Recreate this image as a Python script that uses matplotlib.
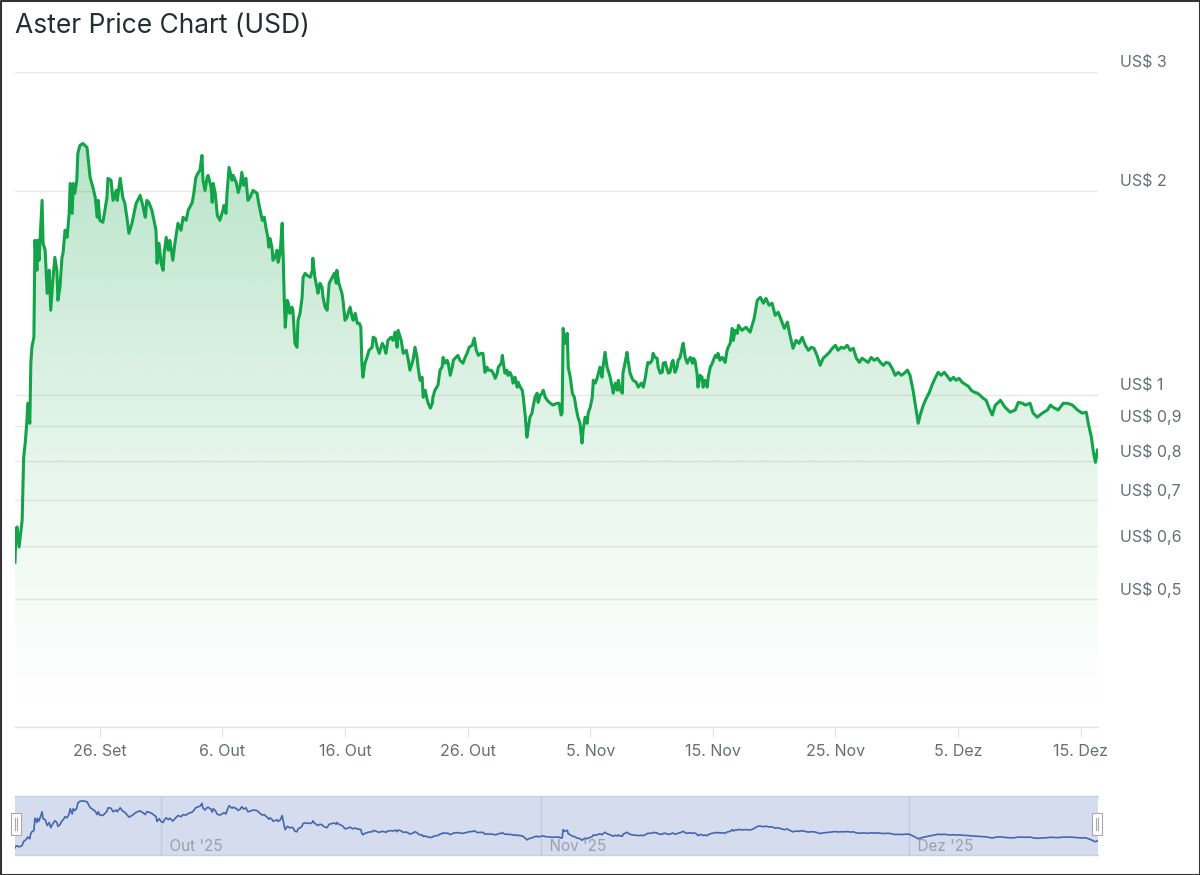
import numpy as np
import pandas as pd
import matplotlib
matplotlib.use('Agg')
import matplotlib.pyplot as plt
import matplotlib.dates as mdates
from matplotlib.patches import Rectangle
from matplotlib.lines import Line2D
from matplotlib.transforms import blended_transform_factory, offset_copy

plt.rcParams['font.family'] = ['Inter', 'DejaVu Sans']

# ASTER price readings: hours after the first sample, price in USD
start = pd.Timestamp('2025-09-19 02:00')
hours = [
    0, 2, 4, 8, 14, 15, 16, 17, 20, 23, 25, 29, 31, 33, 37, 39, 43, 44, 47, 53,
    55, 59, 63, 67, 70, 74, 78, 82, 84, 88, 92, 94, 98, 102, 106, 108, 112, 114, 117, 121,
    123, 127, 133, 141, 143, 147, 153, 157, 161, 163, 166, 172, 176, 180, 182, 188, 192, 198, 200, 206,
    211, 215, 219, 223, 229, 233, 237, 245, 251, 255, 258, 262, 268, 272, 276, 278, 282, 286, 290, 292,
    296, 300, 303, 309, 313, 319, 325, 329, 335, 339, 347, 350, 354, 358,
    362, 366, 368, 372, 376, 378, 384, 386, 388, 392, 396, 401, 407, 409, 413, 415, 419, 425, 427, 433,
    437, 441, 444, 448, 452, 456, 460, 466, 474, 476, 480, 484, 488, 491, 495, 497, 499, 503, 505, 509,
    513, 515, 519, 523, 525, 527, 529, 533, 535, 538, 542, 544, 548, 552, 554, 558, 562, 564, 568, 572,
    578, 582, 583, 587, 591, 593, 597, 601, 603, 607, 611, 615, 621, 625, 629, 630, 634, 640, 642, 646,
    650, 652, 656, 660, 662, 666, 670, 674, 677, 679, 681, 685, 689, 693, 699, 701, 705, 709,
    713, 719, 723, 726, 730, 736, 740, 744, 748, 750, 756, 760, 766, 770, 773, 779, 783, 787, 789, 793,
    797, 799, 803, 807, 809, 813, 817, 818, 822, 828, 832, 836, 838, 842, 846, 848, 852, 856, 858, 863,
    867, 871, 877, 881, 885, 889, 895, 899, 903, 907, 912, 916, 920, 924, 926, 932, 936, 940, 944, 946,
    952, 954, 956, 959, 963, 965, 969, 973, 975, 979, 983, 985, 989, 993, 995, 999, 1002, 1004, 1008, 1012,
    1014, 1018, 1022, 1024, 1028, 1032, 1034, 1038, 1042, 1048,
    1053, 1061, 1065, 1069, 1071, 1073, 1075, 1077, 1081, 1083, 1087, 1091, 1095, 1098, 1102, 1106, 1110, 1112, 1116, 1120,
    1122, 1126, 1130, 1132, 1136, 1140, 1142, 1145, 1149, 1151, 1155, 1159, 1161, 1165, 1169, 1171, 1175, 1179, 1181, 1185,
    1189, 1190, 1194, 1198, 1200, 1204, 1208, 1210, 1216, 1220, 1226, 1230, 1234, 1237, 1239, 1243, 1247, 1249, 1253, 1257,
    1259, 1263, 1267, 1269, 1273, 1277, 1279, 1282, 1286, 1288, 1292, 1296, 1298, 1302, 1306, 1308, 1312, 1316, 1318, 1322,
    1326, 1328, 1331, 1335, 1337, 1341, 1345, 1347, 1351, 1355, 1357, 1361, 1365, 1367, 1371, 1375, 1376, 1380, 1384, 1386,
    1390, 1394, 1396, 1400, 1404, 1406, 1410, 1414, 1416,
    1423, 1431, 1439, 1447, 1453, 1459, 1465, 1470, 1476, 1482, 1488, 1494, 1500, 1506, 1512, 1517, 1523, 1529, 1535, 1541,
    1547, 1553, 1559, 1564, 1570, 1576, 1582, 1588, 1594, 1600, 1606, 1611, 1617, 1623, 1629, 1635, 1641, 1647, 1653, 1658,
    1664, 1670, 1676, 1682, 1688, 1694, 1700, 1705, 1711, 1717, 1723, 1729, 1735, 1741, 1747, 1752, 1758, 1764, 1768, 1772,
    1778, 1784, 1790, 1795, 1801, 1807, 1813, 1819, 1825, 1831, 1837, 1842, 1848, 1854, 1860, 1866, 1872, 1878, 1884, 1889,
    1895, 1901, 1907, 1913, 1919, 1925,
    1929, 1938, 1948, 1958, 1964, 1972, 1978, 1987, 1993, 2001, 2011, 2021, 2027, 2032, 2042, 2052, 2060, 2070, 2080, 2089,
    2097, 2101, 2107, 2111, 2115, 2119,
]
price = [
    0.567, 0.632, 0.639, 0.597, 0.654, 0.707, 0.757, 0.810, 0.850, 0.909, 0.973, 0.909, 1.115, 1.177, 1.218, 1.693, 1.529, 1.693, 1.582, 1.939,
    1.676, 1.637, 1.414, 1.529, 1.335, 1.478, 1.598, 1.529, 1.381, 1.443, 1.598, 1.620, 1.752, 1.710, 1.855, 2.054, 1.855, 2.054, 1.986, 2.076,
    2.275, 2.337, 2.353, 2.321, 2.244, 2.097, 2.020, 1.959, 1.831, 1.939, 1.812, 1.800, 1.875, 1.959, 2.090, 2.076, 1.939, 2.006, 1.939, 2.090,
    1.959, 1.919, 1.831, 1.734, 1.794, 1.855, 1.919, 1.972, 1.894, 1.831, 1.939, 1.926, 1.875, 1.812, 1.752, 1.566, 1.676, 1.566, 1.529, 1.620,
    1.710, 1.637, 1.693, 1.582, 1.676, 1.794, 1.752, 1.831, 1.812, 1.875, 1.926, 1.986, 2.097, 2.126,
    2.147, 2.259, 2.076, 2.006, 2.097, 2.111, 2.027, 1.926, 2.054, 1.986, 1.843, 1.812, 1.875, 1.906, 1.855, 1.986, 2.169, 2.076, 2.111, 2.062,
    1.992, 2.041, 2.133, 2.041, 2.090, 1.939, 1.959, 2.006, 1.986, 1.939, 1.875, 1.812, 1.831, 1.770, 1.710, 1.654, 1.704, 1.654, 1.582, 1.598,
    1.637, 1.571, 1.620, 1.794, 1.598, 1.395, 1.260, 1.381, 1.367, 1.321, 1.349, 1.335, 1.193, 1.177, 1.290, 1.321, 1.395, 1.493, 1.513, 1.503,
    1.493, 1.529, 1.593, 1.493, 1.443, 1.414, 1.463, 1.443, 1.395, 1.349, 1.335, 1.463, 1.493, 1.513, 1.463, 1.529, 1.463, 1.414, 1.381, 1.290,
    1.303, 1.321, 1.349, 1.303, 1.290, 1.321, 1.277, 1.277, 1.260, 1.115, 1.063, 1.115, 1.137, 1.165, 1.177, 1.218, 1.214, 1.177,
    1.153, 1.193, 1.177, 1.153, 1.205, 1.218, 1.205, 1.239, 1.177, 1.247, 1.205, 1.153, 1.165, 1.126, 1.089, 1.126, 1.177, 1.137, 1.100, 1.052,
    1.063, 0.993, 1.017, 0.983, 0.973, 0.957, 0.973, 0.993, 1.017, 1.035, 1.089, 1.100, 1.137, 1.115, 1.126, 1.115, 1.070, 1.100, 1.126, 1.137,
    1.145, 1.126, 1.115, 1.137, 1.153, 1.177, 1.185, 1.214, 1.165, 1.145, 1.153, 1.153, 1.081, 1.100, 1.089, 1.089, 1.078, 1.059, 1.078, 1.100,
    1.115, 1.145, 1.115, 1.078, 1.089, 1.070, 1.081, 1.063, 1.042, 1.063, 1.028, 1.045, 1.028, 1.017, 0.993, 0.928, 0.867, 0.888, 0.928, 0.941,
    0.960, 0.993, 1.007, 0.976, 1.000, 1.007, 1.017, 0.993, 0.983, 0.973,
    0.967, 0.973, 0.973, 0.935, 0.941, 1.255, 1.218, 1.193, 1.234, 1.100, 1.063, 1.007, 0.993, 0.960, 0.928, 0.909, 0.850, 0.888, 0.928, 0.909,
    0.941, 0.960, 0.993, 1.052, 1.042, 1.063, 1.078, 1.100, 1.063, 1.100, 1.157, 1.100, 1.089, 1.063, 1.028, 1.007, 1.042, 1.017, 1.052, 1.017,
    1.007, 1.078, 1.115, 1.157, 1.126, 1.078, 1.059, 1.052, 1.045, 1.028, 1.042, 1.028, 1.063, 1.100, 1.118, 1.115, 1.126, 1.153, 1.137, 1.134,
    1.100, 1.078, 1.081, 1.115, 1.118, 1.089, 1.078, 1.081, 1.118, 1.126, 1.081, 1.100, 1.126, 1.137, 1.177, 1.193, 1.137, 1.115, 1.126, 1.137,
    1.115, 1.134, 1.126, 1.078, 1.028, 1.070, 1.063, 1.028, 1.052, 1.028, 1.063, 1.100, 1.115, 1.126, 1.145, 1.137, 1.153, 1.126, 1.137, 1.134,
    1.118, 1.165, 1.177, 1.193, 1.255, 1.205, 1.247, 1.234, 1.268,
    1.247, 1.260, 1.239, 1.299, 1.381, 1.395, 1.367, 1.390, 1.358, 1.367, 1.312, 1.326, 1.290, 1.255, 1.282, 1.226, 1.173, 1.205, 1.193, 1.218,
    1.185, 1.165, 1.177, 1.173, 1.145, 1.107, 1.134, 1.145, 1.157, 1.173, 1.185, 1.165, 1.177, 1.173, 1.185, 1.165, 1.173, 1.134, 1.118, 1.134,
    1.126, 1.118, 1.137, 1.126, 1.134, 1.118, 1.107, 1.118, 1.115, 1.096, 1.070, 1.081, 1.070, 1.078, 1.089, 1.070, 1.017, 0.951, 0.909, 0.935,
    0.967, 0.990, 1.010, 1.035, 1.059, 1.081, 1.070, 1.081, 1.067, 1.052, 1.063, 1.052, 1.059, 1.045, 1.038, 1.031, 1.017, 1.010, 1.007, 1.000,
    0.990, 0.983, 0.957, 0.935, 0.967, 0.976,
    0.983, 0.960, 0.944, 0.951, 0.976, 0.973, 0.967, 0.973, 0.941, 0.928, 0.941, 0.951, 0.967, 0.960, 0.951, 0.973, 0.973, 0.967, 0.951, 0.941,
    0.944, 0.909, 0.867, 0.824, 0.796, 0.830,
]

y_ticks = [3, 2, 1, 0.9, 0.8, 0.7, 0.6, 0.5]
y_labels = ['US$ 3', 'US$ 2', 'US$ 1', 'US$ 0,9', 'US$ 0,8', 'US$ 0,7', 'US$ 0,6', 'US$ 0,5']
x_tick_dates = ['2025-09-26', '2025-10-06', '2025-10-16', '2025-10-26', '2025-11-05',
                '2025-11-15', '2025-11-25', '2025-12-05', '2025-12-15']
x_tick_labels = ['26. Set', '6. Out', '16. Out', '26. Out', '5. Nov',
                 '15. Nov', '25. Nov', '5. Dez', '15. Dez']
nav_months = ['2025-10-01', '2025-11-01', '2025-12-01']
nav_labels = ["Out '25", "Nov '25", "Dez '25"]

if len(hours) != len(price):
    raise ValueError(f'{len(hours)} hours vs {len(price)} prices')

times = start + pd.to_timedelta(hours, unit='h')
t = mdates.date2num(times.to_pydatetime())
p = np.array(price)

W, H = 1200, 875
fig = plt.figure(figsize=(12, 8.75), dpi=100)


def fig_box(x0, y0, x1, y1):
    return [x0 / W, 1 - y1 / H, (x1 - x0) / W, (y1 - y0) / H]


green = '#13a449'
grey_text = '#666c78'

ax = fig.add_axes(fig_box(15, 72, 1097.5, 727))
ax.set_yscale('log')
ybot, ytop = 0.3238, 3.0
ax.set_xlim(t[0], t[-1])
ax.set_ylim(ybot, ytop)

# gradient fill below the line
poly = ax.fill_between(t, p, ybot, color='none', lw=0)
grad = np.linspace(0, 1, 256)
rgba = np.zeros((256, 1, 4))
rgba[..., :3] = matplotlib.colors.to_rgb(green)
rgba[:, 0, 3] = 0.35 * grad ** 1.3
im = ax.imshow(rgba, extent=[0, 1, 0, 1], origin='lower', aspect='auto',
               transform=ax.transAxes, zorder=1, interpolation='bilinear')
im.set_clip_path(poly.get_paths()[0], transform=ax.transData)

ax.plot(t, p, color=green, lw=2.2, zorder=3, solid_joinstyle='round')
ax.set_xlim(t[0], t[-1])
ax.set_ylim(ybot, ytop)

for v in y_ticks:
    ax.axhline(v, color='#e8e8e8', lw=1, zorder=0.5)
ax.set_yticks([])
ax.yaxis.set_minor_locator(matplotlib.ticker.NullLocator())

trans = offset_copy(blended_transform_factory(ax.transAxes, ax.transData),
                    fig=fig, x=22, y=9, units='dots')
for v, lab in zip(y_ticks, y_labels):
    ax.text(1, v, lab, transform=trans, ha='left', va='center',
            fontsize=11.5, color=grey_text)

ax.set_xticks(mdates.date2num(pd.to_datetime(x_tick_dates).to_pydatetime()))
ax.set_xticklabels(x_tick_labels)
ax.tick_params(axis='x', length=7, width=0.8, color='#e3e3e3', pad=5,
               labelsize=11.5, labelcolor=grey_text)
for side in ['top', 'left', 'right']:
    ax.spines[side].set_visible(False)
ax.spines['bottom'].set_color('#e3e3e3')
ax.spines['bottom'].set_linewidth(1)
ax.set_facecolor('none')

fig.text(15 / W, 1 - 26 / H, 'Aster Price Chart (USD)', fontsize=19,
         color='#272c36', ha='left', va='center')

# navigator
nav = fig.add_axes(fig_box(15, 796, 1097.5, 855))
nav.set_facecolor('#d5dcee')
nav.plot(t, p, color='#4566b0', lw=1.2)
nav.set_xlim(t[0], t[-1])
nav.set_ylim(0.29, 2.54)
nav.set_xticks([])
nav.set_yticks([])
for side in ['left', 'right']:
    nav.spines[side].set_visible(False)
for side in ['top', 'bottom']:
    nav.spines[side].set_color('#c9d0e0')
    nav.spines[side].set_linewidth(1)
for d, lab in zip(nav_months, nav_labels):
    xd = mdates.date2num(pd.Timestamp(d).to_pydatetime())
    nav.axvline(xd, color='#bfc8dc', lw=1, zorder=0.5)
    nav.text(xd, 0.14, '  ' + lab, transform=nav.get_xaxis_transform(),
             ha='left', va='center', fontsize=11, color='#9aa0aa', zorder=0.6)

# navigator handles
for hx in (11, 1092):
    fig.add_artist(Rectangle((hx / W, 1 - 835 / H), 10 / W, 22 / H,
                             transform=fig.transFigure, facecolor='white',
                             edgecolor='#a8a8a8', lw=0.8))
    for lx in (hx + 4, hx + 6):
        fig.add_artist(Line2D([lx / W, lx / W], [1 - 830 / H, 1 - 818 / H],
                              transform=fig.transFigure, color='#a8a8a8', lw=0.8))

# outer border
fig.add_artist(Line2D([0.5 / W, 0.5 / W, 1199.5 / W, 1199.5 / W, 0.5 / W],
                      [0.5 / H, 1 - 0.5 / H, 1 - 0.5 / H, 0.5 / H, 0.5 / H],
                      transform=fig.transFigure, color='#333333', lw=1.5))

fig.savefig('out.png', dpi=100)
